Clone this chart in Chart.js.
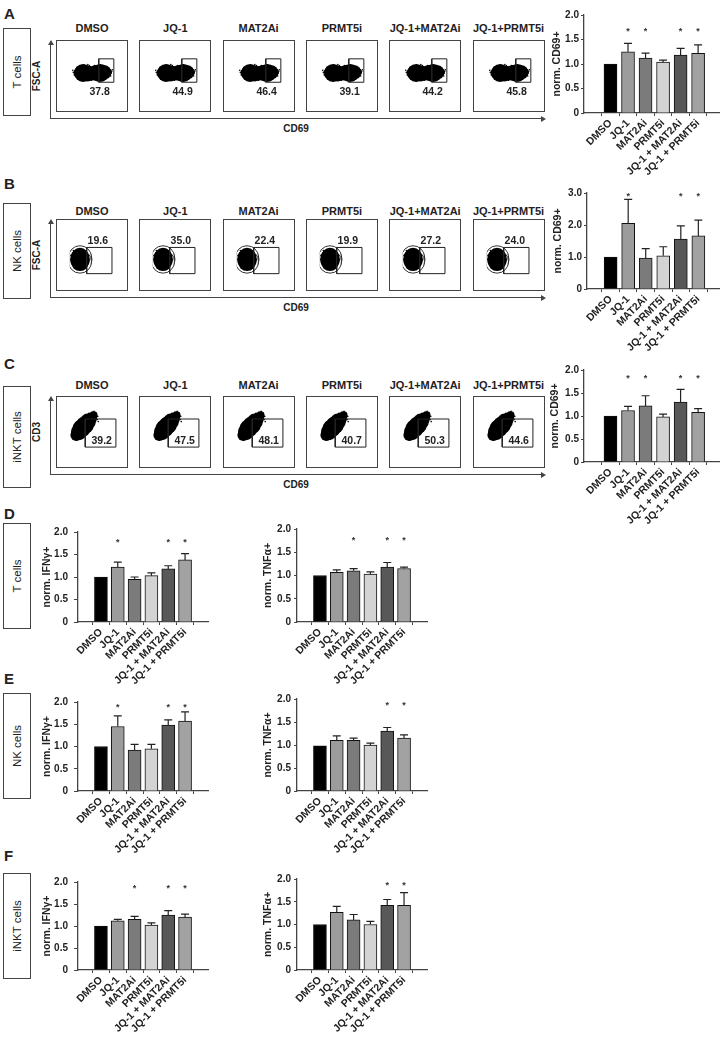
<!DOCTYPE html>
<html>
<head>
<meta charset="utf-8">
<script src="https://cdn.jsdelivr.net/npm/chart.js@4.4.1/dist/chart.umd.min.js"></script>
<style>
  body { margin:0; width:722px; height:1043px; position:relative; overflow:hidden; background:#fff;
         font-family:"Liberation Sans", Arial, sans-serif; color:#222; }
  .abs { position:absolute; }
  .letter { position:absolute; left:4px; font-weight:bold; font-size:15px; line-height:15px; }
  .rowbox { position:absolute; left:3px; width:28px; border:1px solid #444; box-sizing:border-box; }
  .rowbox span { position:absolute; left:50%; top:50%; transform:translate(-50%,-50%) rotate(-90deg);
                 white-space:nowrap; font-size:11.5px; color:#222; }
  .ftitle { position:absolute; width:90px; text-align:center; font-weight:bold; font-size:11px; line-height:12px; }
  .fbox { position:absolute; width:72px; height:72px; border:1px solid #444; box-sizing:border-box; }
  .fbox canvas { display:block; }
  .vlab { position:absolute; transform:translate(-50%,-50%) rotate(-90deg); font-weight:bold; font-size:10px; white-space:nowrap; color:#222; }
  .hlab { position:absolute; transform:translate(-50%,-50%); font-weight:bold; font-size:10px; }
  .ln { position:absolute; background:#444; }
</style>
</head>
<body>
<script>
var F = '"Liberation Sans", Arial, sans-serif';

var treatments = ["DMSO", "JQ-1", "MAT2Ai", "PRMT5i", "JQ-1+MAT2Ai", "JQ-1+PRMT5i"];
var barLabels = ["DMSO", "JQ-1", "MAT2Ai", "PRMT5i", "JQ-1 + MAT2Ai", "JQ-1 + PRMT5i"];
var barColors = ["#000000", "#9c9c9c", "#7b7b7b", "#d3d3d3", "#585858", "#a2a2a2"];

// % in CD69+ gate
var tGatePct = [37.8, 44.9, 46.4, 39.1, 44.2, 45.8];
var nkGatePct = [19.6, 35.0, 22.4, 19.9, 27.2, 24.0];
var inktGatePct = [39.2, 47.5, 48.1, 40.7, 50.3, 44.6];

// gates [x0, x1, y0, y1] in plot units (0-100)
var gateT = [63, 92, 38, 83];
var gateNK = [38, 95, 8, 67];
var gateINKT = [37, 96, 21, 75];

// event clouds: dense cores [x, y, r]
var coreT = [[26,56,6],[33,56,9],[42,55,8],[50,55,7],[58,56,8],[66,56,9],[74,57,7],[80,57,4]];
var coreNK = [[23,46,9],[23,34,9],[23,40,10]];
var ringNK = [[23,40,12],[23,45,11.5],[23,35,11.5]];
var coreINKT = [[20,44,6],[25,50,8],[30,57,9],[36,63,9],[42,70,8],[48,76,6],[53,82,4]];
// scattered single events [x, y]
var dotsT = [[16,52],[17,58],[19,62],[22,49],[24,64],[28,45],[31,67],[36,44],[40,68],[47,45],[52,67],[56,44],
             [61,68],[68,45],[70,69],[78,49],[79,64],[83,52],[84,61],[87,56],[88,59],[14,57],[45,70],[63,42],
             [18,55],[20,47],[21,66],[27,69],[34,71],[42,72],[49,42],[55,70],[60,41],[66,71],[73,44],[76,67],
             [81,47],[82,65],[86,50],[89,62],[13,61],[38,42]];
var dotsNK = [[8,60],[30,62],[40,38],[14,20],[35,25],[10,45],[36,50]];
var dotsINKT = [[12,40],[15,50],[18,36],[28,40],[34,48],[40,56],[46,62],[52,70],[56,78],[58,86],[44,86],
                [36,78],[28,70],[22,60],[16,54],[50,88],[26,36],[60,74],[38,52],[14,45],[20,34],[31,44],
                [43,60],[55,68],[61,80],[54,90],[40,82],[32,74],[24,66],[18,58],[47,84],[62,70]];

// normalised bar data
var cd69T = [1.00, 1.25, 1.12, 1.04, 1.18, 1.22];
var cd69TSem = [0, 0.17, 0.10, 0.04, 0.14, 0.17];
var cd69TSig = [0, 1, 1, 0, 1, 1];
var cd69NK = [1.00, 2.05, 0.97, 1.04, 1.56, 1.66];
var cd69NKSem = [0, 0.75, 0.29, 0.28, 0.41, 0.49];
var cd69NKSig = [0, 1, 0, 0, 1, 1];
var cd69INKT = [1.00, 1.12, 1.22, 0.98, 1.30, 1.08];
var cd69INKTSem = [0, 0.09, 0.22, 0.06, 0.28, 0.08];
var cd69INKTSig = [0, 1, 1, 0, 1, 1];

var ifngT = [1.00, 1.22, 0.95, 1.03, 1.18, 1.38];
var ifngTSem = [0, 0.11, 0.05, 0.06, 0.07, 0.14];
var ifngTSig = [0, 1, 0, 0, 1, 1];
var tnfaT = [1.00, 1.07, 1.10, 1.03, 1.18, 1.15];
var tnfaTSem = [0, 0.05, 0.05, 0.05, 0.10, 0.03];
var tnfaTSig = [0, 0, 1, 0, 1, 1];

var ifngNK = [1.00, 1.45, 0.92, 0.95, 1.48, 1.57];
var ifngNKSem = [0, 0.24, 0.13, 0.10, 0.12, 0.21];
var ifngNKSig = [0, 1, 0, 0, 1, 1];
var tnfaNK = [0.98, 1.10, 1.10, 1.00, 1.30, 1.15];
var tnfaNKSem = [0, 0.10, 0.05, 0.04, 0.08, 0.07];
var tnfaNKSig = [0, 0, 0, 0, 1, 1];

var ifngINKT = [1.00, 1.12, 1.15, 1.02, 1.25, 1.20];
var ifngINKTSem = [0, 0.03, 0.07, 0.05, 0.10, 0.07];
var ifngINKTSig = [0, 0, 1, 0, 1, 1];
var tnfaINKT = [1.00, 1.27, 1.10, 1.00, 1.42, 1.42];
var tnfaINKTSem = [0, 0.13, 0.12, 0.07, 0.13, 0.28];
var tnfaINKTSig = [0, 0, 0, 0, 1, 1];

function el(cls, css, html) {
  var d = document.createElement('div');
  d.className = cls;
  for (var k in css) d.style[k] = (typeof css[k] === 'number') ? css[k] + 'px' : css[k];
  if (html) d.innerHTML = html;
  document.body.appendChild(d);
  return d;
}

function pts(a) { return a.map(function (p) { return {x: p[0], y: p[1], r: p[2]}; }); }

function flowPlot(left, top, pct, gate, core, ring, dots, labelMode) {
  var box = el('fbox', {left: left, top: top});
  var c = document.createElement('canvas');
  c.width = 70; c.height = 70;
  box.appendChild(c);
  var g = gate;
  var gateLine = [[g[0],g[2]],[g[1],g[2]],[g[1],g[3]],[g[0],g[3]],[g[0],g[2]]];
  var ds = [
    {data: pts(gateLine), showLine: true, pointRadius: 0, borderColor: '#222', borderWidth: 1, fill: false},
    {type: 'bubble', data: pts(core), backgroundColor: '#000', borderWidth: 0},
    {data: pts(dots), pointRadius: 0.8, backgroundColor: '#000', borderWidth: 0}
  ];
  if (ring) ds.push({type: 'bubble', data: pts(ring), backgroundColor: '#fff', borderColor: '#000', borderWidth: 0.8});
  new Chart(c, {
    type: 'scatter',
    data: {datasets: ds},
    options: {
      responsive: false, animation: false, events: [],
      layout: {padding: 0},
      plugins: {legend: {display: false}, tooltip: {enabled: false}},
      scales: {x: {display: false, min: 0, max: 100}, y: {display: false, min: 0, max: 100}}
    },
    plugins: [{
      id: 'pct',
      afterDraw: function (ch) {
        var ctx = ch.ctx, xs = ch.scales.x, ys = ch.scales.y;
        var x = xs.getPixelForValue(g[1]) - 4, y;
        if (labelMode === 'below') y = ys.getPixelForValue(g[2]) + 13;
        else if (labelMode === 'above') y = ys.getPixelForValue(g[3]) - 3;
        else y = ys.getPixelForValue(g[2]) - 3;
        ctx.save();
        ctx.font = 'bold 10.5px ' + F;
        ctx.fillStyle = '#222';
        ctx.textAlign = 'right';
        ctx.textBaseline = 'alphabetic';
        ctx.fillText(pct.toFixed(1), x, y);
        ctx.restore();
      }
    }]
  });
}

function flowRow(row) {
  var lefts = [56, 139.3, 222.6, 305.9, 389.2, 472.5];
  for (var i = 0; i < 6; i++) {
    el('ftitle', {left: lefts[i] + 36 - 45, top: row.titleY - 6}, treatments[i]);
    flowPlot(Math.round(lefts[i]), row.boxTop, row.pct[i], row.gate, row.core, row.ring, row.dots, row.mode);
  }
  var axisY = row.boxTop + 78;
  el('ln', {left: 50, top: row.boxTop + 3, width: 1, height: axisY - row.boxTop - 2});
  el('ln', {left: 50, top: axisY, width: 492, height: 1});
  el('abs', {left: 47.5, top: row.boxTop, width: 0, height: 0, borderLeft: '3px solid transparent',
             borderRight: '3px solid transparent', borderBottom: '5px solid #444'});
  el('abs', {left: 541, top: axisY - 2.5, width: 0, height: 0, borderTop: '3px solid transparent',
             borderBottom: '3px solid transparent', borderLeft: '5px solid #444'});
  el('vlab', {left: 36, top: row.boxTop + 36}, row.ylab);
  el('hlab', {left: 296, top: axisY + 10}, 'CD69');
}

function barPanel(geo, means, sem, sig, yMax, yStep, yTitle) {
  var PT = 8, XH = 84;
  var c = document.createElement('canvas');
  c.width = geo.right - geo.ax + geo.yw + 2;
  c.height = geo.zero - geo.top + PT + XH;
  c.className = 'abs';
  c.style.left = (geo.ax - geo.yw) + 'px';
  c.style.top = (geo.top - PT) + 'px';
  document.body.appendChild(c);
  new Chart(c, {
    type: 'bar',
    data: {datasets: [{
      data: means.map(function (v, i) { return {x: i, y: v}; }),
      backgroundColor: barColors, borderColor: '#111', borderWidth: 1, barThickness: 13
    }]},
    options: {
      responsive: false, animation: false, events: [],
      layout: {padding: {top: PT, right: 2, left: 0, bottom: 0}},
      plugins: {legend: {display: false}, tooltip: {enabled: false}},
      scales: {
        x: {
          type: 'linear', min: geo.lo, max: geo.hi,
          afterBuildTicks: function (s) { s.ticks = barLabels.map(function (l, i) { return {value: i}; }); },
          afterFit: function (s) { s.height = XH; },
          grid: {drawOnChartArea: false, drawTicks: true, tickLength: 3, color: '#444', lineWidth: 1},
          border: {color: '#444', width: 1.3},
          ticks: {autoSkip: false, minRotation: 45, maxRotation: 45, padding: 1, color: '#222',
                  font: {family: F, size: 10.5, weight: 'bold'},
                  callback: function (v) { return barLabels[v]; }}
        },
        y: {
          min: 0, max: yMax,
          afterFit: function (s) { s.width = geo.yw; },
          grid: {drawOnChartArea: false, drawTicks: true, tickLength: geo.tl, color: '#444', lineWidth: 1},
          border: {color: '#444', width: 1.3},
          ticks: {stepSize: yStep, padding: geo.tp, color: '#222', font: {family: F, size: 10, weight: 'bold'},
                  callback: function (v) { return v === 0 ? '0' : v.toFixed(1); }},
          title: {display: true, text: yTitle, color: '#222', font: {family: F, size: 10.5, weight: 'bold'},
                  padding: {top: 0, bottom: 0}}
        }
      }
    },
    plugins: [{
      id: 'errStars',
      afterDatasetsDraw: function (ch) {
        var ctx = ch.ctx, xs = ch.scales.x, ys = ch.scales.y;
        ctx.save();
        ctx.strokeStyle = '#222';
        ctx.lineWidth = 1.2;
        for (var i = 0; i < means.length; i++) {
          var x = xs.getPixelForValue(i);
          if (sem[i] > 0) {
            var y1 = ys.getPixelForValue(means[i]);
            var y2 = ys.getPixelForValue(means[i] + sem[i]);
            ctx.beginPath();
            ctx.moveTo(x, y1); ctx.lineTo(x, y2);
            ctx.moveTo(x - 4, y2); ctx.lineTo(x + 4, y2);
            ctx.stroke();
          }
          if (sig[i]) {
            ctx.fillStyle = '#333';
            ctx.font = 'bold 9px ' + F;
            ctx.textAlign = 'center';
            ctx.textBaseline = 'middle';
            ctx.fillText('*', x, ys.getPixelForValue(geo.starAt) + 2);
          }
        }
        ctx.restore();
      }
    }]
  });
}

// panel letters & row boxes
el('letter', {top: 6}, 'A');
el('letter', {top: 176}, 'B');
el('letter', {top: 356}, 'C');
el('letter', {top: 506}, 'D');
el('letter', {top: 671}, 'E');
el('letter', {top: 848}, 'F');

el('rowbox', {top: 28, height: 88}, '<span>T cells</span>');
el('rowbox', {top: 203, height: 96}, '<span>NK cells</span>');
el('rowbox', {top: 386, height: 102}, '<span>iNKT cells</span>');
el('rowbox', {top: 523, height: 106}, '<span>T cells</span>');
el('rowbox', {top: 693, height: 106}, '<span>NK cells</span>');
el('rowbox', {top: 873, height: 106}, '<span>iNKT cells</span>');

flowRow({titleY: 28, boxTop: 40, pct: tGatePct, gate: gateT, core: coreT, ring: null, dots: dotsT, mode: 'below', ylab: 'FSC-A'});
flowRow({titleY: 211, boxTop: 219, pct: nkGatePct, gate: gateNK, core: coreNK, ring: ringNK, dots: dotsNK, mode: 'above', ylab: 'FSC-A'});
flowRow({titleY: 385, boxTop: 396, pct: inktGatePct, gate: gateINKT, core: coreINKT, ring: null, dots: dotsINKT, mode: 'inside', ylab: 'CD3'});

var gA = {ax: 584, top: 15, zero: 113, right: 719, yw: 33, tl: 3, tp: 2, lo: -0.87, hi: 5.55, starAt: 1.7};
var gB = {ax: 587, top: 193, zero: 289, right: 719, yw: 35, tl: 3, tp: 2, lo: -0.72, hi: 5.55, starAt: 2.95};
var gC = {ax: 584, top: 370, zero: 462, right: 719, yw: 35, tl: 3, tp: 2, lo: -0.87, hi: 5.55, starAt: 1.85};
barPanel(gA, cd69T, cd69TSem, cd69TSig, 2, 0.5, 'norm. CD69+');
barPanel(gB, cd69NK, cd69NKSem, cd69NKSig, 3, 1, 'norm. CD69+');
barPanel(gC, cd69INKT, cd69INKTSem, cd69INKTSig, 2, 0.5, 'norm. CD69+');

function lowGeo(ax, top, zero, starAt, yw, tl, tp) {
  return {ax: ax, top: top, zero: zero, right: ax + 130, yw: yw, tl: tl, tp: tp, lo: -0.72, hi: 5.72, starAt: starAt};
}
barPanel(lowGeo(78, 528, 622, 1.8, 37, 4, 6), ifngT, ifngTSem, ifngTSig, 2, 0.5, 'norm. IFNγ+');
barPanel(lowGeo(297, 528, 622, 1.8, 35, 3, 3), tnfaT, tnfaTSem, tnfaTSig, 2, 0.5, 'norm. TNFα+');
barPanel(lowGeo(78, 698, 791, 1.93, 37, 4, 6), ifngNK, ifngNKSem, ifngNKSig, 2, 0.5, 'norm. IFNγ+');
barPanel(lowGeo(297, 698, 791, 1.9, 35, 3, 3), tnfaNK, tnfaNKSem, tnfaNKSig, 2, 0.5, 'norm. TNFα+');
barPanel(lowGeo(78, 878, 970, 1.9, 37, 4, 6), ifngINKT, ifngINKTSem, ifngINKTSig, 2, 0.5, 'norm. IFNγ+');
barPanel(lowGeo(297, 878, 970, 1.9, 35, 3, 3), tnfaINKT, tnfaINKTSem, tnfaINKTSig, 2, 0.5, 'norm. TNFα+');
</script>
</body>
</html>
